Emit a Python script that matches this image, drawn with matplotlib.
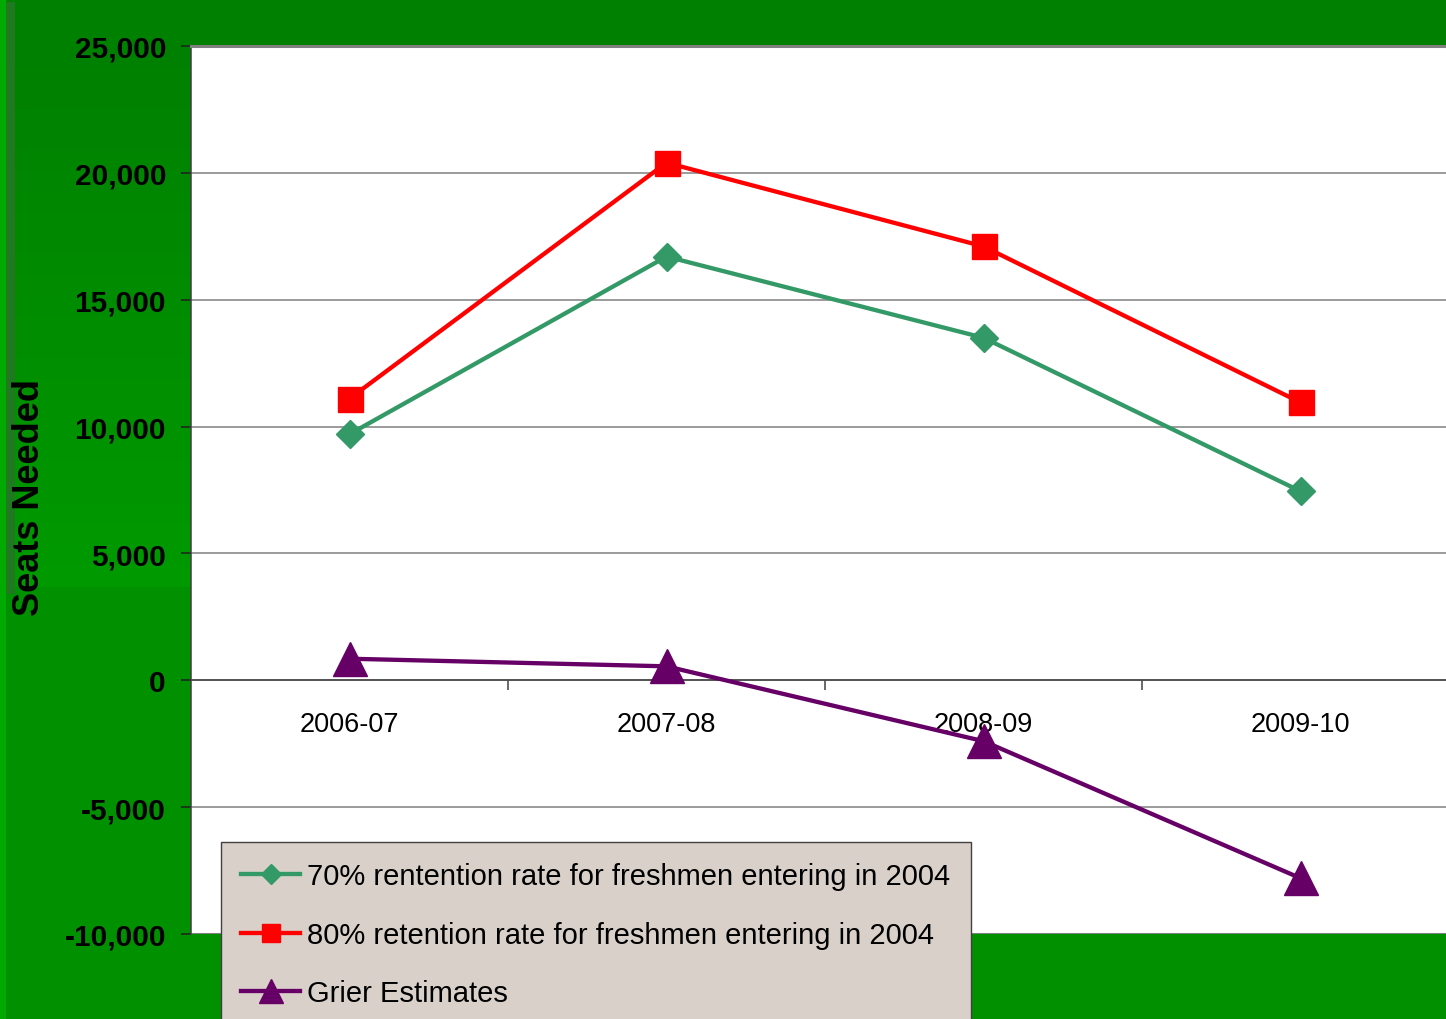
import matplotlib.pyplot as plt
import numpy as np

years = ["2006-07", "2007-08", "2008-09", "2009-10"]
rate70 = [9700, 16700, 13500, 7450]
rate80 = [11100, 20400, 17100, 10950]
grier = [850, 550, -2400, -7800]
yticks = [-10000, -5000, 0, 5000, 10000, 15000, 20000, 25000]
ytick_labels = ["-10,000", "-5,000", "0", "5,000", "10,000", "15,000", "20,000", "25,000"]

W, H = 1446, 1020
fig = plt.figure(figsize=(W / 100, H / 100), dpi=100)
fig.patch.set_facecolor("#009000")
plt.rcParams["font.family"] = ["Liberation Sans", "DejaVu Sans"]

# background: green slide with darker top band and a gradient on the left
bg = np.zeros((H, W, 3))
bg[:, :] = np.array([0, 0x90, 0]) / 255
bg[:47, :] = np.array([0, 0x80, 0]) / 255
grad = np.linspace(0x80, 0x9a, 588 - 47) / 255
bg[47:588, :, 1] = grad[:, None]
bg[:, :6] = np.array([0, 0xaa, 0]) / 255
bg[3:595, 6:15] = np.array([0x20, 0x78, 0x20]) / 255
bg_ax = fig.add_axes([0, 0, 1, 1], zorder=-1)
bg_ax.imshow(bg, aspect="auto", extent=(0, W, H, 0))
bg_ax.axis("off")

ax = fig.add_axes([191 / W, 1 - 935 / H, 1268 / W, 888 / H])
ax.set_facecolor("white")

x = np.arange(len(years))
ax.plot(x, rate70, color="#339966", lw=3.1, marker="D", ms=14,
        label="70% rentention rate for freshmen entering in 2004", zorder=3)
ax.plot(x, rate80, color="#ff0000", lw=3.1, marker="s", ms=18,
        label="80% retention rate for freshmen entering in 2004", zorder=3)
ax.plot(x, grier, color="#660066", lw=3.1, marker="^", ms=24,
        label="Grier Estimates", zorder=3)

ax.set_xlim(-0.5, 3.5)
ax.set_ylim(-10000, 25000)
ax.set_yticks(yticks)
ax.set_yticklabels(ytick_labels, fontsize=21.5, fontweight="bold")
ax.tick_params(axis="y", length=7, width=1.1, color="#202020", pad=11)
ax.yaxis.grid(True, color="#808080", lw=1.1)
ax.set_axisbelow(True)

ax.spines["bottom"].set_position(("data", 0))
ax.spines["bottom"].set_color("#404040")
ax.spines["bottom"].set_linewidth(1.1)
ax.spines["left"].set_color("#404040")
ax.spines["left"].set_linewidth(1.1)
ax.spines["top"].set_color("#808080")
ax.spines["top"].set_linewidth(2.2)
ax.spines["right"].set_visible(False)
ax.axhline(-10000, color="#808080", lw=2.2, zorder=2)

ax.set_xticks(x[:-1] + 0.5)
ax.set_xticklabels([])
ax.set_xticks(x, minor=True)
ax.set_xticklabels(years, minor=True, fontsize=19.5)
ax.tick_params(axis="x", which="major", direction="out", length=7,
               width=1.1, color="#404040")
ax.tick_params(axis="x", which="minor", length=0, pad=22)

fig.text(30 / W, 1 - 498 / H, "Seats Needed", rotation=90, ha="center",
         va="center", fontsize=26, fontweight="bold")

leg = ax.legend(loc="upper left", bbox_to_anchor=(221 / W, 1 - 843 / H),
                bbox_transform=fig.transFigure, fontsize=21, frameon=True,
                fancybox=False, borderaxespad=0, borderpad=0.7,
                labelspacing=1.04, handlelength=2.0, handletextpad=0.25,
                markerscale=0.7, numpoints=1)
leg.get_frame().set_facecolor("#d9d0c9")
leg.get_frame().set_edgecolor("#404040")
leg.get_frame().set_alpha(1)
leg.set_zorder(5)

fig.savefig("out.png", dpi=100, facecolor=fig.get_facecolor())
